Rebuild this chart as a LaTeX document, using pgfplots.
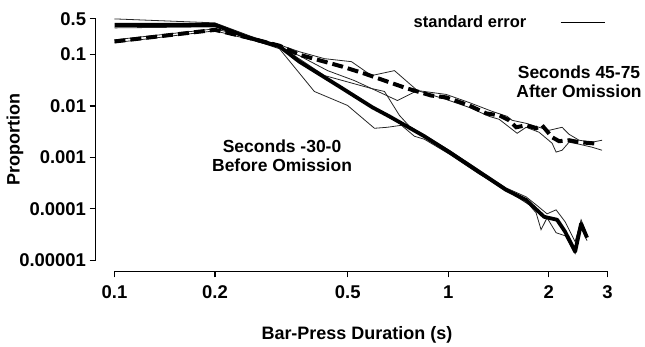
\documentclass[border=0pt]{standalone}
\usepackage{fontspec}
\setmainfont{Liberation Sans}
\usepackage{pgfplots}
\pgfplotsset{compat=1.18}
\newcommand{\lf}{\bfseries\fontsize{17.5}{19}\selectfont}
\newcommand{\tf}{\bfseries\fontsize{18.5}{20}\selectfont}
\newcommand{\af}{\bfseries\fontsize{18}{20}\selectfont}
\begin{document}
\begin{tikzpicture}
\begin{axis}[
 name=ax,
 scale only axis,
 width=512.8pt, height=253pt,
 xmode=log, ymode=log,
 xmin=0.08774, xmax=3,
 ymin=6.11e-6, ymax=0.5,
 axis x line*=bottom, axis y line*=left,
 axis line style={draw=none},
 xtick={0.1,0.2,0.5,1,2,3},
 xticklabels={0.1,0.2,0.5,1,2,3},
 ytick={0.00001,0.0001,0.001,0.01,0.1,0.5},
 yticklabels={0.00001,0.0001,0.001,0.01,0.1,0.5},
 xminorticks=false, yminorticks=false,
 tick align=outside,
 major tick length=6pt,
 tick style={black, line width=1.1pt},
 ticklabel style={font=\tf},
 xticklabel style={yshift=-5pt},
 clip=false,
 xlabel={Bar-Press Duration (s)},
 xlabel style={at={(axis description cs:0.5105,-0.270)}, anchor=base, font=\af},
 ylabel={Proportion},
 ylabel style={at={(axis description cs:-0.1574,0.5206)}, anchor=center, font=\af},
 legend plot pos=right,
 legend image code/.code={\path (0pt,0pt); \draw[line width=0.8pt, black] (34pt,0pt) -- (78pt,0pt);},
 legend style={draw=none, fill=none, inner sep=0pt, outer sep=0pt, nodes={inner sep=0pt}, font=\bfseries\fontsize{16.5}{18}\selectfont,
   at={(axis description cs:0.9951,0.987)}, anchor=east},
]
\addlegendimage{line width=0.8pt, black}
\addlegendentry{standard error}

% Before omission: standard error bounds
\addplot[line width=0.8pt, black!85] table {
0.1 0.495
0.2 0.414
0.254 0.232
0.312 0.149
0.426 0.0391
0.589 0.0219
0.644 0.0192
0.714 0.00658
0.765 0.00403
0.848 0.00270
1.007 0.00138
1.238 0.000568
1.491 0.000255
1.711 0.000171
1.833 0.000120
1.977 0.0000800
2.104 0.0000957
2.239 0.0000561
2.399 0.0000230
2.500 0.0000613
2.605 0.0000314
};
\addplot[line width=0.8pt, black!85] table {
0.1 0.331
0.2 0.3465
0.254 0.203
0.312 0.130
0.397 0.0192
0.499 0.01027
0.601 0.00369
0.657 0.00386
0.724 0.00422
0.792 0.00258
0.848 0.00226
1.007 0.00116
1.238 0.000475
1.522 0.000213
1.747 0.000120
1.833 0.0000837
1.897 0.0000393
1.977 0.0000670
2.104 0.0000343
2.239 0.0000300
2.399 0.0000135
2.500 0.0000429
2.605 0.0000240
};
% After omission: standard error bounds
\addplot[line width=0.8pt, black!85] table {
0.1 0.194
0.2 0.317
0.312 0.155
0.358 0.1138
0.426 0.0833
0.513 0.0729
0.589 0.0391
0.690 0.0488
0.808 0.0200
0.986 0.0168
1.155 0.0117
1.354 0.00786
1.501 0.00629
1.554 0.00527
1.711 0.00461
1.871 0.00386
2.005 0.00337
2.193 0.00386
2.301 0.00282
2.466 0.00216
2.697 0.00198
2.889 0.00216
};
\addplot[line width=0.8pt, black!85] table {
0.1 0.170
0.2 0.290
0.312 0.142
0.358 0.0952
0.435 0.0488
0.523 0.0313
0.589 0.0219
0.704 0.0128
0.808 0.0200
0.986 0.0134
1.155 0.0094
1.326 0.00629
1.421 0.00551
1.608 0.00295
1.711 0.00386
1.871 0.00309
2.047 0.00189
2.104 0.00127
2.193 0.00138
2.301 0.00198
2.466 0.00181
2.697 0.00158
2.889 0.00138
};
% Before omission mean
\addplot[line width=3.8pt, black, line join=round] table {
0.1 0.379
0.2 0.379
0.254 0.21
0.312 0.145
0.358 0.0729
0.472 0.0239
0.593 0.0094
0.666 0.00629
0.848 0.00258
1.007 0.00127
1.238 0.00052
1.491 0.000233
1.711 0.000149
1.937 0.000070
2.119 0.0000613
2.239 0.0000359
2.399 0.0000147
2.500 0.0000513
2.605 0.0000275
};
% After omission mean
\addplot[line width=4pt, black, dash pattern=on 11pt off 5pt] table {
0.1 0.180
0.2 0.303
0.254 0.21
0.312 0.149
0.358 0.0995
0.482 0.0583
0.561 0.0427
0.657 0.0299
0.754 0.0219
0.889 0.0160
0.986 0.0147
1.155 0.01027
1.299 0.00719
1.421 0.00658
1.522 0.00527
1.597 0.00386
1.711 0.00422
1.833 0.00369
1.910 0.00422
2.047 0.00247
2.148 0.00207
2.301 0.00216
2.466 0.00198
2.697 0.00189
2.830 0.00181
};
\draw[line width=1.2pt] (rel axis cs:0.03705,0) -- (rel axis cs:1,0);
\draw[line width=1.2pt] (rel axis cs:0,0.04348) -- (rel axis cs:0,1);
\node[font=\lf, align=center] at (axis description cs:0.9444,0.752) {Seconds 45-75\\After Omission};
\node[font=\lf, align=center] at (axis description cs:0.3643,0.457) {Seconds -30-0\\Before Omission};
\end{axis}
\path (ax.south west) ++(-95.7pt,-70.3pt) rectangle ++(645pt,342pt);
\end{tikzpicture}
\end{document}
